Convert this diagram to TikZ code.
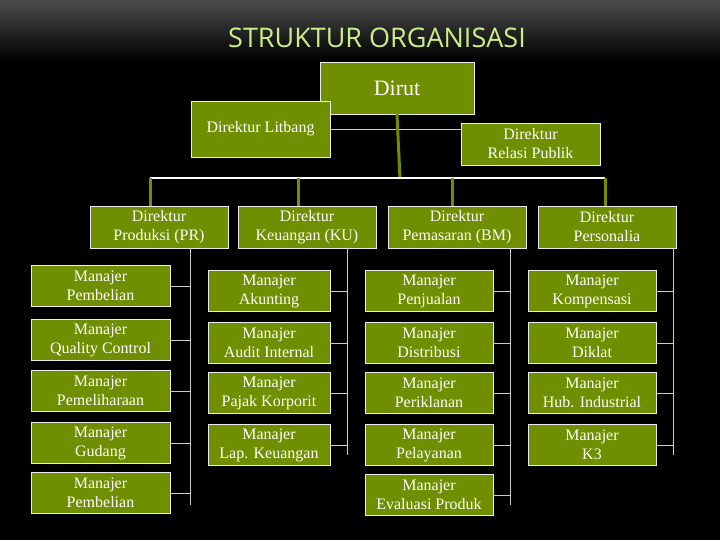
\documentclass[tikz,border=0pt]{standalone}
\usepackage{fontspec}
\setmainfont{Liberation Serif}
\newfontfamily\titlefont{Open Sans}
\definecolor{boxgreen}{HTML}{6F8E00}
\definecolor{titlegreen}{HTML}{CCEE88}
\definecolor{linegreen}{HTML}{6F8E00}
\begin{document}
\begin{tikzpicture}[x=1pt,y=-1pt,
    orgbox/.style={draw=white!85!gray, fill=boxgreen, text=white, align=center,
        inner sep=0pt, font=\fontsize{16}{19}\selectfont},
    stub/.style={draw=white!60!gray, line width=0.4pt},
    stem/.style={draw=linegreen, line width=3pt}]

    % background
    \fill[black] (0,0) rectangle (720,540);
    \shade[top color=black!70!white, bottom color=black] (0,0) rectangle (720,60);
    \node[text=titlegreen, font=\titlefont\fontsize{27}{30}\selectfont] (title) at (377,38) {STRUKTUR ORGANISASI};

    % top level
    \node[orgbox, minimum width=154, minimum height=52, font=\fontsize{22}{26}\selectfont] (dirut) at (397,88) {Dirut};
    \node[orgbox, minimum width=139, minimum height=56] (litbang) at (260.5,129) {Direktur Litbang};
    \node[orgbox, minimum width=139, minimum height=42] (relasi) at (530.5,144) {Direktur\\Relasi Publik};
    \draw[stub] (litbang.east) -- (litbang.east -| relasi.west);
    \coordinate (bus) at (400,179);
    \draw[stem] (dirut.south) -- (bus);
    \draw[white, line width=2pt] (150,178) -- (605,178);

    % directors
    \foreach \name/\x/\txt in {prod/159/Produksi (PR), keu/307/Keuangan (KU), pem/457/Pemasaran (BM), pers/607/Personalia} {
        \node[orgbox, minimum width=138, minimum height=42] (d_\name) at (\x,227) {Direktur\\\txt};
    }
    \foreach \name/\x in {prod/150, keu/298, pem/452, pers/605}
        \draw[stem] (\x,178) -- (\x,206);

    % managers, column 1
    \foreach \i/\y/\txt in {1/286/Pembelian, 2/340/Quality Control, 3/391/Pemeliharaan, 4/443/Gudang, 5/493/Pembelian}
        \node[orgbox, minimum width=139, minimum height=41] (m1_\i) at (100.5,\y) {Manajer\\\txt};
    % column 2
    \foreach \i/\y/\txt in {1/291/Akunting, 2/343/Audit Internal, 3/393/Pajak Korporit, 4/445/Lap. Keuangan}
        \node[orgbox, minimum width=122, minimum height=41] (m2_\i) at (269,\y) {Manajer\\\txt};
    % column 3
    \foreach \i/\y/\txt in {1/291/Penjualan, 2/343/Distribusi, 3/393/Periklanan, 4/445/Pelayanan, 5/495/Evaluasi Produk}
        \node[orgbox, minimum width=128, minimum height=41] (m3_\i) at (429,\y) {Manajer\\\txt};
    % column 4
    \foreach \i/\y/\txt in {1/291/Kompensasi, 2/343/Diklat, 3/393/Hub. Industrial, 4/445/K3}
        \node[orgbox, minimum width=128, minimum height=41] (m4_\i) at (592,\y) {Manajer\\\txt};

    % connectors
    \draw[stub] (d_prod.south -| 190,0) -- (190,505);
    \draw[stub] (d_keu.south -| 347,0) -- (347,455);
    \draw[stub] (d_pem.south -| 510,0) -- (510,505);
    \draw[stub] (d_pers.south -| 673,0) -- (673,455);
    \foreach \i in {1,...,5} \draw[stub] (m1_\i.east) -- (m1_\i.east -| 190,0);
    \foreach \i in {1,...,4} \draw[stub] (m2_\i.east) -- (m2_\i.east -| 347,0);
    \foreach \i in {1,...,5} \draw[stub] (m3_\i.east) -- (m3_\i.east -| 510,0);
    \foreach \i in {1,...,4} \draw[stub] (m4_\i.east) -- (m4_\i.east -| 673,0);
\end{tikzpicture}
\end{document}
